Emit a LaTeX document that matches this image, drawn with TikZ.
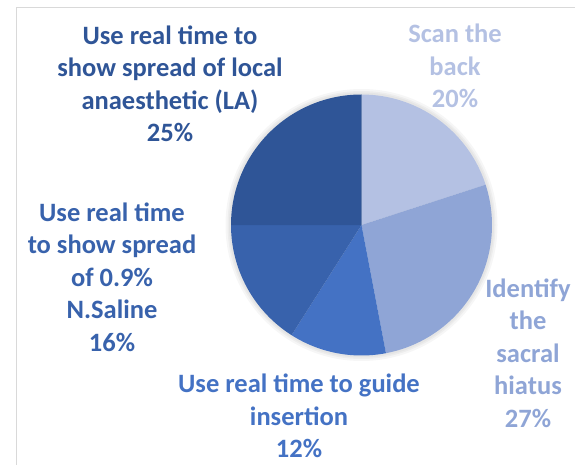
\documentclass[tikz,border=0pt]{standalone}
\usepackage{fontspec}
\setmainfont{Carlito}[BoldFont={Carlito Bold}]
\usepackage{tikz}

\definecolor{scancol}{HTML}{B4C1E3}
\definecolor{identcol}{HTML}{8FA5D6}
\definecolor{guidecol}{HTML}{4472C4}
\definecolor{salinecol}{HTML}{3862AC}
\definecolor{lacol}{HTML}{2F5597}
\definecolor{framecol}{HTML}{D9D9D9}

\begin{document}
\begin{tikzpicture}[
  x=1pt, y=1pt,
  slicelabel/.style={align=center, font=\fontsize{26.5}{32.5}\selectfont\bfseries, inner sep=0pt},
  pieshadow/.style={fill=black, opacity=0.035}
]
\useasboundingbox (0,0) rectangle (575,464);
\draw[framecol, line width=0.8pt] (16,457) rectangle (600,-20);

\coordinate (c) at (361.5,239);
% soft shadow round the pie
\foreach \r in {136,134,132.5}
  \fill[pieshadow] (c) circle (\r);

% slices
\fill[scancol]   (c) -- ++(90:130.5)    arc (90:18:130.5)      -- cycle;
\fill[identcol]  (c) -- ++(18:130.5)    arc (18:-79.2:130.5)   -- cycle;
\fill[guidecol]  (c) -- ++(-79.2:130.5) arc (-79.2:-122.4:130.5) -- cycle;
\fill[salinecol] (c) -- ++(-122.4:130.5) arc (-122.4:-180:130.5) -- cycle;
\fill[lacol]     (c) -- ++(180:130.5)   arc (180:90:130.5)     -- cycle;

% labels
\node[slicelabel, text=scancol] (lblscan) at (455,398) {Scan the\\back\\20\%};
\node[slicelabel, text=identcol] (lblident) at (528,111) {Identify\\the\\sacral\\hiatus\\27\%};
\node[slicelabel, text=guidecol] (lblguide) at (299,48) {Use real time to guide\\insertion\\12\%};
\node[slicelabel, text=salinecol] (lblsaline) at (112,187) {Use real time\\to show spread\\of 0.9\%\\N.Saline\\16\%};
\node[slicelabel, text=lacol] (lbla) at (170,380) {Use real time to\\show spread of local\\anaesthetic (LA)\\25\%};
\end{tikzpicture}
\end{document}
